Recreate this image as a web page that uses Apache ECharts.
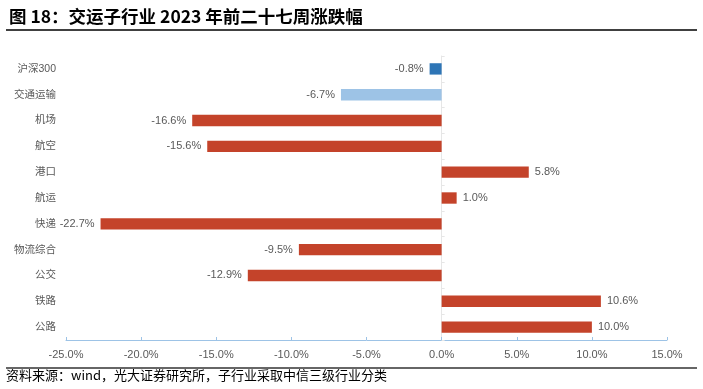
<!DOCTYPE html>
<html><head><meta charset="utf-8">
<script src="https://cdn.jsdelivr.net/npm/echarts@6/dist/echarts.min.js"></script>
<style>html,body{margin:0;padding:0;background:#fff}#c{width:703px;height:389px}</style>
</head><body><div id="c"></div>
<script>
var categories = ['沪深300','交通运输','机场','航空','港口','航运','快递','物流综合','公交','铁路','公路'];
var values = [-0.8,-6.7,-16.6,-15.6,5.8,1.0,-22.7,-9.5,-12.9,10.6,10.0];
var barColors = ['#2E75B6','#9DC3E6','#C4432A','#C4432A','#C4432A','#C4432A','#C4432A','#C4432A','#C4432A','#C4432A','#C4432A'];
var xTicks = {min:-25, max:15, interval:5};

var font = '"Noto Sans CJK SC", sans-serif';
var numFont = '"Liberation Sans", "Noto Sans CJK SC", sans-serif';
var chart = echarts.init(document.getElementById('c'), null, {renderer:'canvas'});
var data = values.map(function(v,i){
  return {value:v, itemStyle:{color:barColors[i]},
    label:{position: v<0 ? 'left' : 'right'}};
});
chart.setOption({
  animation:false,
  title:{text:'图 18：交运子行业 2023 年前二十七周涨跌幅', left:4, top:3,
    textStyle:{fontFamily:font, fontSize:17.5, fontWeight:'bold', color:'#000'}},
  graphic:[
    {type:'line', shape:{x1:6,y1:30,x2:697,y2:30}, style:{stroke:'#000', lineWidth:1.5}},
    {type:'line', shape:{x1:6,y1:368,x2:697,y2:368}, style:{stroke:'#666', lineWidth:2}},
    {type:'text', left:6, top:369, style:{text:'资料来源：wind，光大证券研究所，子行业采取中信三级行业分类', font:'13px '+font, fill:'#000'}}
  ],
  grid:{left:66, right:36, top:56, bottom:49},
  xAxis:{type:'value', min:xTicks.min, max:xTicks.max, interval:xTicks.interval,
    axisLine:{show:true, onZero:false, lineStyle:{color:'#9DC3E6', width:1}},
    axisTick:{show:true, inside:true, length:3, lineStyle:{color:'#9DC3E6'}},
    splitLine:{show:false},
    axisLabel:{formatter:function(v){return v.toFixed(1)+'%';}, color:'#595959', fontSize:11, fontFamily:numFont, margin:9}},
  yAxis:[
    {type:'category', data:categories, inverse:true,
      axisLine:{show:false, onZero:false}, axisTick:{show:false},
      axisLabel:{color:'#595959', fontSize:10.5, fontFamily:numFont, margin:10}},
    {type:'category', data:categories, inverse:true, position:'left',
      axisLine:{show:true, onZero:true, lineStyle:{color:'#E6E6E6'}},
      axisTick:{show:true, inside:true, length:3, lineStyle:{color:'#E6E6E6'}},
      axisLabel:{show:false}}
  ],
  series:[{type:'bar', data:data, yAxisIndex:0, barWidth:'44%',
    label:{show:true, formatter:function(p){return p.value.toFixed(1)+'%';}, color:'#595959', fontSize:11, fontFamily:numFont, distance:6}}]
});
</script></body></html>
